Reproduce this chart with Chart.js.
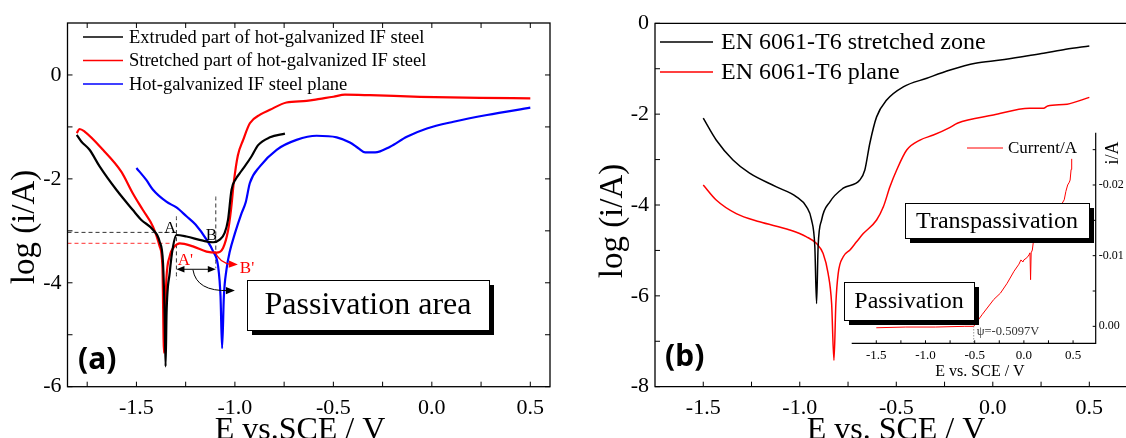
<!DOCTYPE html>
<html>
<head>
<meta charset="utf-8">
<title>Polarization curves</title>
<script src="https://cdn.jsdelivr.net/npm/chart.js@4.4.1/dist/chart.umd.min.js"></script>
<style>
  body { margin: 0; background: #fff; }
  #wrap { position: relative; width: 1126px; height: 438px; overflow: hidden; background: #fff; }
  canvas { position: absolute; }
</style>
</head>
<body>
<div id="wrap">
  <canvas id="chartA" width="560" height="438" style="left:0;top:0"></canvas>
  <canvas id="chartB" width="566" height="438" style="left:560px;top:0"></canvas>
  <canvas id="inset" width="286" height="270" style="left:840px;top:120px"></canvas>
</div>
<script>
const serif = "'Liberation Serif', 'Times New Roman', serif";
Chart.defaults.font.family = serif;
Chart.defaults.color = '#000';

// ---- panel (a): hot-galvanized IF steel, E (V vs SCE) / log(i/A) ----
const eExtruded = [-1.803, -1.78, -1.738, -1.687, -1.602, -1.518, -1.475, -1.416, -1.382, -1.365, -1.357, -1.352, -1.347, -1.331, -1.314, -1.297, -1.246, -1.162, -1.11, -1.077, -1.052, -1.035, -1.017, -0.995, -0.975, -0.95, -0.916, -0.882, -0.822, -0.746];
const logExtruded = [-1.155, -1.28, -1.44, -1.76, -2.21, -2.60, -2.79, -2.98, -3.21, -3.62, -4.58, -5.61, -4.58, -3.81, -3.30, -3.08, -3.11, -3.19, -3.22, -3.17, -3.04, -2.79, -2.21, -2.0, -1.89, -1.76, -1.57, -1.35, -1.20, -1.13];

const eStretched = [-1.803, -1.789, -1.763, -1.67, -1.577, -1.518, -1.467, -1.416, -1.382, -1.368, -1.36, -1.348, -1.331, -1.306, -1.28, -1.213, -1.144, -1.094, -1.06, -1.035, -1.02, -1.005, -0.985, -0.958, -0.924, -0.87, -0.822, -0.738, -0.636, -0.568, -0.5, -0.441, -0.314, -0.06, 0.246, 0.5];
const logStretched = [-1.12, -1.04, -1.09, -1.44, -1.86, -2.28, -2.60, -2.92, -3.30, -3.69, -5.35, -3.94, -3.49, -3.30, -3.24, -3.30, -3.40, -3.42, -3.33, -3.0, -2.6, -2.05, -1.55, -1.25, -0.93, -0.76, -0.67, -0.53, -0.50, -0.46, -0.42, -0.38, -0.39, -0.42, -0.44, -0.45];

const ePlaneA = [-1.50, -1.45, -1.416, -1.348, -1.297, -1.246, -1.20, -1.144, -1.11, -1.085, -1.073, -1.065, -1.056, -1.043, -1.026, -1.0, -0.966, -0.945, -0.924, -0.873, -0.788, -0.687, -0.585, -0.483, -0.416, -0.373, -0.339, -0.288, -0.212, -0.127, -0.025, 0.11, 0.28, 0.5];
const logPlaneA = [-1.79, -2.02, -2.21, -2.44, -2.55, -2.72, -2.88, -3.17, -3.40, -3.69, -4.26, -5.26, -4.26, -3.75, -3.40, -3.05, -2.66, -2.45, -2.08, -1.76, -1.44, -1.25, -1.17, -1.20, -1.30, -1.41, -1.49, -1.49, -1.38, -1.19, -1.03, -0.90, -0.77, -0.63];

// dashed guides marking A / A' / B
const guideBlackE = [-1.85, -1.30];
const guideBlackLog = [-3.03, -3.03];
const guideRedE = [-1.85, -1.32];
const guideRedLog = [-3.24, -3.24];
const guideAE = [-1.297, -1.297];
const guideALog = [-2.72, -3.94];
const guideBE = [-1.097, -1.097];
const guideBLog = [-2.34, -3.72];

const xTicksA = [-1.5, -1.0, -0.5, 0.0, 0.5];
const xMinorA = [-1.75, -1.25, -0.75, -0.25, 0.25];
const yTicksA = [-6, -4, -2, 0];
const yMinorA = [-5, -3, -1];

// ---- panel (b): EN 6061-T6 ----
const eZone = [-1.5, -1.433, -1.346, -1.26, -1.121, -1.017, -0.965, -0.939, -0.922, -0.913, -0.905, -0.887, -0.844, -0.775, -0.689, -0.663, -0.637, -0.602, -0.55, -0.464, -0.342, -0.221, -0.09, 0.039, 0.19, 0.263, 0.378, 0.5];
const logZone = [-2.09, -2.57, -3.01, -3.30, -3.60, -3.82, -4.04, -4.33, -4.92, -6.17, -4.92, -4.33, -3.93, -3.63, -3.45, -3.23, -2.64, -2.06, -1.69, -1.40, -1.21, -1.03, -0.88, -0.81, -0.71, -0.66, -0.57, -0.50];

const ePlaneB = [-1.5, -1.433, -1.329, -1.208, -1.052, -0.965, -0.913, -0.879, -0.853, -0.835, -0.823, -0.813, -0.801, -0.775, -0.74, -0.706, -0.671, -0.602, -0.567, -0.533, -0.498, -0.446, -0.377, -0.308, -0.221, -0.184, 0.003, 0.19, 0.263, 0.284, 0.385, 0.5];
const logPlaneB = [-3.56, -3.89, -4.19, -4.37, -4.55, -4.70, -4.85, -5.07, -5.51, -6.17, -7.42, -6.17, -5.51, -5.14, -4.99, -4.81, -4.63, -4.33, -4.04, -3.60, -3.23, -2.79, -2.57, -2.46, -2.29, -2.20, -2.02, -1.87, -1.87, -1.82, -1.78, -1.63];

const xTicksB = [-1.5, -1.0, -0.5, 0.0, 0.5];
const xMinorB = [-1.25, -0.75, -0.25, 0.25];
const yTicksB = [-8, -6, -4, -2, 0];
const yMinorB = [-7, -5, -3, -1];

// inset: linear current
const eInset = [-1.50, -1.20, -0.90, -0.60, -0.51, -0.425, -0.306, -0.238, -0.17, -0.10, -0.05, -0.03, -0.01, 0.0, 0.03, 0.052, 0.062, 0.068, 0.074, 0.086, 0.103, 0.13, 0.20, 0.30, 0.38, 0.41, 0.427, 0.445, 0.462, 0.47, 0.48, 0.486];
const iInset = [0.0002, 0.0001, 0.0001, 0.0, 0.0, -0.00165, -0.0038, -0.0047, -0.0061, -0.0078, -0.0088, -0.0094, -0.0091, -0.0094, -0.0097, -0.0101, -0.0104, -0.0066, -0.0104, -0.0108, -0.0127, -0.0138, -0.0150, -0.0162, -0.0172, -0.0179, -0.0191, -0.0200, -0.0204, -0.0207, -0.0222, -0.0237];
const xTicksIn = [-1.5, -1.0, -0.5, 0.0, 0.5];
const xMinorIn = [-1.25, -0.75, -0.25, 0.25];
const yTicksIn = [0, -0.01, -0.02];
const yMinorIn = [-0.005, -0.015, -0.025];
const psiE = -0.5097;

const toPoints = (xs, ys) => xs.map((x, i) => ({x: x, y: ys[i]}));

function ticksOn(ctx, scale, area, values, len, edge) {
  ctx.beginPath();
  values.forEach(v => {
    const p = scale.getPixelForValue(v);
    if (edge === 'bottom') { ctx.moveTo(p, area.bottom); ctx.lineTo(p, area.bottom - len); }
    if (edge === 'top') { ctx.moveTo(p, area.top); ctx.lineTo(p, area.top + len); }
    if (edge === 'left') { ctx.moveTo(area.left, p); ctx.lineTo(area.left + len, p); }
    if (edge === 'right') { ctx.moveTo(area.right, p); ctx.lineTo(area.right - len, p); }
  });
  ctx.stroke();
}

function shadowBox(ctx, x, y, w, h, text, size) {
  ctx.fillStyle = '#000';
  ctx.fillRect(x + 5, y + 5, w, h);
  ctx.fillStyle = '#fff';
  ctx.fillRect(x, y, w, h);
  ctx.strokeStyle = '#000';
  ctx.lineWidth = 1;
  ctx.strokeRect(x + 0.5, y + 0.5, w, h);
  ctx.fillStyle = '#000';
  ctx.font = size + 'px ' + serif;
  ctx.textAlign = 'center';
  ctx.textBaseline = 'middle';
  ctx.fillText(text, x + w / 2, y + h / 2 + 1);
}

function arrowHead(ctx, x, y, ang, size, color) {
  ctx.save();
  ctx.translate(x, y);
  ctx.rotate(ang);
  ctx.beginPath();
  ctx.moveTo(0, 0);
  ctx.lineTo(-size, -size * 0.4);
  ctx.lineTo(-size, size * 0.4);
  ctx.closePath();
  ctx.fillStyle = color;
  ctx.fill();
  ctx.restore();
}

function drawLegend(ctx, datasets, x0, x1, xText, yStart, dy, size, lw) {
  let row = 0;
  ctx.font = size + 'px ' + serif;
  ctx.textAlign = 'left';
  ctx.textBaseline = 'middle';
  datasets.forEach(ds => {
    if (!ds.inLegend) return;
    const yy = yStart + row * dy;
    ctx.strokeStyle = ds.borderColor;
    ctx.lineWidth = lw;
    ctx.setLineDash([]);
    ctx.beginPath();
    ctx.moveTo(x0, yy);
    ctx.lineTo(x1, yy);
    ctx.stroke();
    ctx.fillStyle = '#000';
    ctx.fillText(ds.label, xText, yy + 1);
    row++;
  });
}

function rotatedText(ctx, text, x, y, size) {
  ctx.save();
  ctx.translate(x, y);
  ctx.rotate(-Math.PI / 2);
  ctx.font = size + 'px ' + serif;
  ctx.textAlign = 'center';
  ctx.textBaseline = 'alphabetic';
  ctx.fillStyle = '#000';
  ctx.fillText(text, 0, 0);
  ctx.restore();
}

const decorA = {
  id: 'decorA',
  afterDatasetsDraw(chart) {
    const {ctx, chartArea: area, scales: {x, y}} = chart;
    ctx.save();
    ctx.strokeStyle = '#000';
    ctx.lineWidth = 1.3;
    ctx.strokeRect(area.left, area.top, area.right - area.left, area.bottom - area.top);
    ctx.lineWidth = 1;
    const xt = xTicksA.concat(xMinorA), yt = yTicksA.concat(yMinorA);
    ticksOn(ctx, x, area, xt, 5, 'bottom');
    ticksOn(ctx, x, area, xt, 5, 'top');
    ticksOn(ctx, y, area, yt, 5, 'left');
    ticksOn(ctx, y, area, yt, 5, 'right');

    // point labels
    ctx.font = '17px ' + serif;
    ctx.textBaseline = 'alphabetic';
    ctx.textAlign = 'center';
    ctx.fillStyle = '#000';
    ctx.fillText('A', x.getPixelForValue(-1.329), y.getPixelForValue(-3.04));
    ctx.fillText('B', x.getPixelForValue(-1.119), y.getPixelForValue(-3.17));
    ctx.textAlign = 'left';
    ctx.fillStyle = '#ff0000';
    ctx.fillText("A'", x.getPixelForValue(-1.29), y.getPixelForValue(-3.65));
    ctx.fillText("B'", x.getPixelForValue(-0.975), y.getPixelForValue(-3.81));

    // double arrow over the passivation range
    const xa = x.getPixelForValue(-1.297), xb = x.getPixelForValue(-1.097), ya = y.getPixelForValue(-3.74);
    ctx.strokeStyle = '#000';
    ctx.lineWidth = 1;
    ctx.beginPath();
    ctx.moveTo(xa + 4, ya);
    ctx.lineTo(xb - 4, ya);
    ctx.stroke();
    arrowHead(ctx, xa, ya, Math.PI, 8, '#000');
    arrowHead(ctx, xb, ya, 0, 8, '#000');

    // curved arrow towards the box
    const s1 = [x.getPixelForValue(-1.213), y.getPixelForValue(-3.75)];
    const c1 = [x.getPixelForValue(-1.195), y.getPixelForValue(-4.17)];
    const e1 = [x.getPixelForValue(-1.0), y.getPixelForValue(-4.15)];
    ctx.beginPath();
    ctx.moveTo(s1[0], s1[1]);
    ctx.quadraticCurveTo(c1[0], c1[1], e1[0] - 6, e1[1]);
    ctx.stroke();
    arrowHead(ctx, e1[0], e1[1], 0, 9, '#000');

    // red arrow to B'
    const s2 = [x.getPixelForValue(-1.102), y.getPixelForValue(-3.40)];
    const c2 = [x.getPixelForValue(-1.077), y.getPixelForValue(-3.63)];
    const e2 = [x.getPixelForValue(-0.985), y.getPixelForValue(-3.65)];
    ctx.strokeStyle = '#ff0000';
    ctx.lineWidth = 1.3;
    ctx.beginPath();
    ctx.moveTo(s2[0], s2[1]);
    ctx.quadraticCurveTo(c2[0], c2[1], e2[0] - 6, e2[1]);
    ctx.stroke();
    arrowHead(ctx, e2[0], e2[1], 0.05, 9, '#ff0000');

    drawLegend(ctx, chart.data.datasets, 83, 123, 129, 37, 23.5, 18.5, 1.5);
    shadowBox(ctx, 247, 280, 242, 50, 'Passivation area', 32);

    ctx.fillStyle = '#000';
    ctx.font = 'bold 30px "Noto Sans", "Open Sans", sans-serif';
    ctx.textAlign = 'left';
    ctx.textBaseline = 'alphabetic';
    ctx.fillText('(a)', 78, 369);

    ctx.font = '32px ' + serif;
    ctx.textAlign = 'center';
    ctx.fillText('E vs.SCE / V', 300, 439);
    rotatedText(ctx, 'log (i/A)', 34, 227, 33);
    ctx.restore();
  }
};

const decorB = {
  id: 'decorB',
  afterDatasetsDraw(chart) {
    const {ctx, chartArea: area, scales: {x, y}} = chart;
    ctx.save();
    ctx.strokeStyle = '#000';
    ctx.lineWidth = 1.3;
    ctx.beginPath();
    ctx.moveTo(chart.width, area.top);
    ctx.lineTo(area.left, area.top);
    ctx.lineTo(area.left, area.bottom);
    ctx.lineTo(chart.width, area.bottom);
    ctx.stroke();
    ctx.lineWidth = 1;
    ticksOn(ctx, x, area, xTicksB.concat(xMinorB), 5, 'bottom');
    ticksOn(ctx, y, area, yTicksB.concat(yMinorB), 5, 'left');

    drawLegend(ctx, chart.data.datasets, 100, 153, 161, 42, 30, 24, 1.3);

    ctx.fillStyle = '#000';
    ctx.font = 'bold 30px "Noto Sans", "Open Sans", sans-serif';
    ctx.textAlign = 'left';
    ctx.textBaseline = 'alphabetic';
    ctx.fillText('(b)', 105, 366);

    ctx.font = '32px ' + serif;
    ctx.textAlign = 'center';
    ctx.fillText('E vs. SCE / V', 336, 439);
    rotatedText(ctx, 'log (i/A)', 62, 221, 33);
    ctx.restore();
  }
};

const decorInset = {
  id: 'decorInset',
  afterDatasetsDraw(chart) {
    const {ctx, chartArea: area, scales: {x, y}} = chart;
    ctx.save();
    ctx.strokeStyle = '#000';
    ctx.lineWidth = 1.2;
    ctx.beginPath();
    ctx.moveTo(area.left, area.bottom);
    ctx.lineTo(area.right, area.bottom);
    ctx.lineTo(area.right, area.top);
    ctx.stroke();
    ctx.lineWidth = 1;
    ticksOn(ctx, x, area, xTicksIn.concat(xMinorIn), 3, 'bottom');
    ticksOn(ctx, y, area, yTicksIn.concat(yMinorIn), 3, 'right');

    // onset of the rise
    const px = x.getPixelForValue(psiE);
    ctx.strokeStyle = '#666';
    ctx.setLineDash([1, 2]);
    ctx.beginPath();
    ctx.moveTo(px, y.getPixelForValue(0));
    ctx.lineTo(px, area.bottom);
    ctx.stroke();
    ctx.setLineDash([]);
    ctx.fillStyle = '#333';
    ctx.font = '12.5px ' + serif;
    ctx.textAlign = 'left';
    ctx.textBaseline = 'alphabetic';
    ctx.fillText('\u03c8=-0.5097V', px + 3, area.bottom - 8);

    // legend
    ctx.strokeStyle = '#ff0000';
    ctx.beginPath();
    ctx.moveTo(127, 28);
    ctx.lineTo(163, 28);
    ctx.stroke();
    ctx.fillStyle = '#000';
    ctx.font = '17px ' + serif;
    ctx.textBaseline = 'middle';
    ctx.fillText(chart.data.datasets[0].label, 168, 29);

    ctx.font = '16px ' + serif;
    ctx.textAlign = 'center';
    ctx.textBaseline = 'alphabetic';
    ctx.fillText('E vs. SCE / V', 140, 256);
    rotatedText(ctx, 'i/A', 278, 33, 18);

    shadowBox(ctx, 65, 83, 184, 35, 'Transpassivation', 24);
    shadowBox(ctx, 4, 162, 130, 38, 'Passivation', 24);
    ctx.restore();
  }
};

const tickFont = size => ({family: serif, size: size});
const noGrid = {display: false, drawTicks: false};

new Chart(document.getElementById('chartA'), {
  type: 'line',
  data: {
    datasets: [
      {label: 'Extruded part of hot-galvanized IF steel', inLegend: true, data: toPoints(eExtruded, logExtruded), borderColor: '#000000', borderWidth: 2.2},
      {label: 'Stretched part of hot-galvanized IF steel', inLegend: true, data: toPoints(eStretched, logStretched), borderColor: '#ff0000', borderWidth: 2.2},
      {label: 'Hot-galvanized IF steel plane', inLegend: true, data: toPoints(ePlaneA, logPlaneA), borderColor: '#0000ff', borderWidth: 2.2},
      {label: '', data: toPoints(guideBlackE, guideBlackLog), borderColor: '#333', borderWidth: 1, borderDash: [4, 3]},
      {label: '', data: toPoints(guideRedE, guideRedLog), borderColor: '#ff3030', borderWidth: 1, borderDash: [4, 3]},
      {label: '', data: toPoints(guideAE, guideALog), borderColor: '#333', borderWidth: 1, borderDash: [4, 3]},
      {label: '', data: toPoints(guideBE, guideBLog), borderColor: '#333', borderWidth: 1, borderDash: [4, 3]}
    ]
  },
  options: {
    responsive: false,
    animation: false,
    layout: {padding: {left: 0, top: 23, right: 10, bottom: 0}},
    elements: {point: {radius: 0}, line: {cubicInterpolationMode: 'monotone'}},
    plugins: {legend: {display: false}, tooltip: {enabled: false}},
    scales: {
      x: {
        type: 'linear', min: -1.85, max: 0.6,
        afterFit: s => { s.height = 51.3; },
        afterBuildTicks: s => { s.ticks = xTicksA.map(v => ({value: v})); },
        grid: noGrid, border: {display: false},
        ticks: {padding: 8, autoSkip: false, maxRotation: 0, font: tickFont(22), callback: v => v.toFixed(1)}
      },
      y: {
        type: 'linear', min: -6, max: 1,
        afterFit: s => { s.width = 67.5; },
        afterBuildTicks: s => { s.ticks = yTicksA.map(v => ({value: v})); },
        grid: noGrid, border: {display: false},
        ticks: {padding: 6, font: tickFont(22), callback: v => String(v)}
      }
    }
  },
  plugins: [decorA]
});

new Chart(document.getElementById('chartB'), {
  type: 'line',
  data: {
    datasets: [
      {label: 'EN 6061-T6 stretched zone', inLegend: true, data: toPoints(eZone, logZone), borderColor: '#000000', borderWidth: 1.5},
      {label: 'EN 6061-T6 plane', inLegend: true, data: toPoints(ePlaneB, logPlaneB), borderColor: '#ff0000', borderWidth: 1.5}
    ]
  },
  options: {
    responsive: false,
    animation: false,
    layout: {padding: {left: 0, top: 23.3, right: 0, bottom: 0}},
    elements: {point: {radius: 0}, line: {cubicInterpolationMode: 'monotone'}},
    plugins: {legend: {display: false}, tooltip: {enabled: false}},
    scales: {
      x: {
        type: 'linear', min: -1.75, max: 0.69,
        afterFit: s => { s.height = 51.3; },
        afterBuildTicks: s => { s.ticks = xTicksB.map(v => ({value: v})); },
        grid: noGrid, border: {display: false},
        ticks: {padding: 8, autoSkip: false, maxRotation: 0, font: tickFont(22), callback: v => v.toFixed(1)}
      },
      y: {
        type: 'linear', min: -8, max: 0,
        afterFit: s => { s.width = 95; },
        afterBuildTicks: s => { s.ticks = yTicksB.map(v => ({value: v})); },
        grid: noGrid, border: {display: false},
        ticks: {padding: 6, font: tickFont(22), callback: v => String(v)}
      }
    }
  },
  plugins: [decorB]
});

new Chart(document.getElementById('inset'), {
  type: 'line',
  data: {
    datasets: [
      {label: 'Current/A', data: toPoints(eInset, iInset), borderColor: '#ff0000', borderWidth: 1, tension: 0}
    ]
  },
  options: {
    responsive: false,
    animation: false,
    layout: {padding: {left: 11.7, top: 12.7, right: 0, bottom: 0}},
    elements: {point: {radius: 0}},
    plugins: {legend: {display: false}, tooltip: {enabled: false}},
    scales: {
      x: {
        type: 'linear', min: -1.75, max: 0.73,
        afterFit: s => { s.height = 46.7; },
        afterBuildTicks: s => { s.ticks = xTicksIn.map(v => ({value: v})); },
        grid: noGrid, border: {display: false},
        ticks: {padding: 4, autoSkip: false, maxRotation: 0, font: tickFont(13), callback: v => v.toFixed(1)}
      },
      y: {
        type: 'linear', position: 'right', reverse: true, min: -0.0274, max: 0.0024,
        afterFit: s => { s.width = 30.3; },
        afterBuildTicks: s => { s.ticks = yTicksIn.map(v => ({value: v})); },
        grid: noGrid, border: {display: false},
        ticks: {padding: 3, font: tickFont(12), callback: v => v.toFixed(2)}
      }
    }
  },
  plugins: [decorInset]
});
</script>
</body>
</html>
